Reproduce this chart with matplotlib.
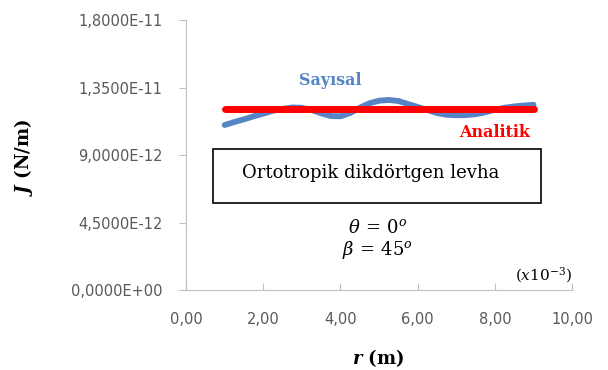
import numpy as np
import matplotlib
matplotlib.use("Agg")
import matplotlib.pyplot as plt
from matplotlib.ticker import FuncFormatter, MultipleLocator
from matplotlib.patches import Rectangle

# veri (x10^-12 N/m)
r_say = [1.0, 1.25, 1.5, 1.75, 2.0, 2.25, 2.5, 2.75, 3.0, 3.25, 3.5, 3.75, 4.0, 4.25, 4.5, 4.75, 5.0,
         5.25, 5.5, 5.75, 6.0, 6.25, 6.5, 6.75, 7.0, 7.25, 7.5, 7.75, 8.0, 8.25, 8.5, 8.75, 9.0]
J_say = [11.0, 11.2, 11.38, 11.58, 11.76, 11.95, 12.08, 12.17, 12.15, 12.0, 11.78, 11.6, 11.58, 11.8, 12.15, 12.45, 12.62,
         12.67, 12.6, 12.4, 12.2, 12.0, 11.8, 11.68, 11.65, 11.66, 11.72, 11.85, 12.02, 12.15, 12.24, 12.3, 12.35]
r_ana = [1.0, 9.0]
J_ana = [12.07, 12.07]
olcek = 1e-12

plt.rcParams['mathtext.fontset'] = 'dejavuserif'

fig = plt.figure(figsize=(6.08, 3.70), dpi=100)
ax = fig.add_axes([0.306, 0.216, 0.635, 0.730])

ax.plot(r_say, np.array(J_say) * olcek, color='#5585C5', lw=4.2, solid_capstyle='round')
ax.plot(r_ana, np.array(J_ana) * olcek, color='#FF0000', lw=5.0, solid_capstyle='round')

ax.set_xlim(0, 10)
ax.set_ylim(0, 1.8e-11)
ax.xaxis.set_major_locator(MultipleLocator(2))
ax.yaxis.set_major_locator(MultipleLocator(4.5e-12))
ax.xaxis.set_major_formatter(FuncFormatter(lambda v, p: f"{v:.2f}".replace('.', ',')))
ax.yaxis.set_major_formatter(FuncFormatter(lambda v, p: f"{v:.4E}".replace('.', ',')))
ax.yaxis.get_offset_text().set_visible(False)

for s in ['top', 'right']:
    ax.spines[s].set_visible(False)
for s in ['left', 'bottom']:
    ax.spines[s].set_color('#BFBFBF')
ax.tick_params(colors='#BFBFBF', labelcolor='#595959', labelsize=10.5, length=5)
ax.tick_params(axis='x', direction='in', pad=16)
ax.tick_params(axis='y', direction='out', pad=12)

ax.set_xlabel(r'$\mathbfit{r}$ (m)', fontsize=13, fontweight='bold', family='DejaVu Serif')
ax.set_ylabel(r'$\mathbfit{J}$ (N/m)', fontsize=13, fontweight='bold', family='DejaVu Serif')
ax.xaxis.set_label_coords(0.497, -0.212)
ax.yaxis.set_label_coords(-0.39, 0.49)

ax.text(3.73, 14.0e-12, 'Sayısal', color='#5585C5', fontsize=11.5, fontweight='bold', family='DejaVu Serif', ha='center', va='center')
ax.text(8.0, 10.53e-12, 'Analitik', color='#FF0000', fontsize=11.5, fontweight='bold', family='DejaVu Serif', ha='center', va='center')

ax.add_patch(Rectangle((0.70, 5.8e-12), 8.5, 3.6e-12, fill=False, edgecolor='black', lw=1.2, clip_on=False))
ax.text(4.77, 7.8e-12, 'Ortotropik dikdörtgen levha', fontsize=13, family='DejaVu Serif', ha='center', va='center')

ax.text(4.95, 4.13e-12, r'$\theta\, =\, 0^o$', fontsize=13, ha='center', va='center')
ax.text(4.95, 2.67e-12, r'$\beta\, =\, 45^o$', fontsize=13, ha='center', va='center')
ax.text(9.25, 1.0e-12, r'$(x10^{-3})$', fontsize=11, ha='center', va='center')

fig.savefig('out.png', dpi=100)
